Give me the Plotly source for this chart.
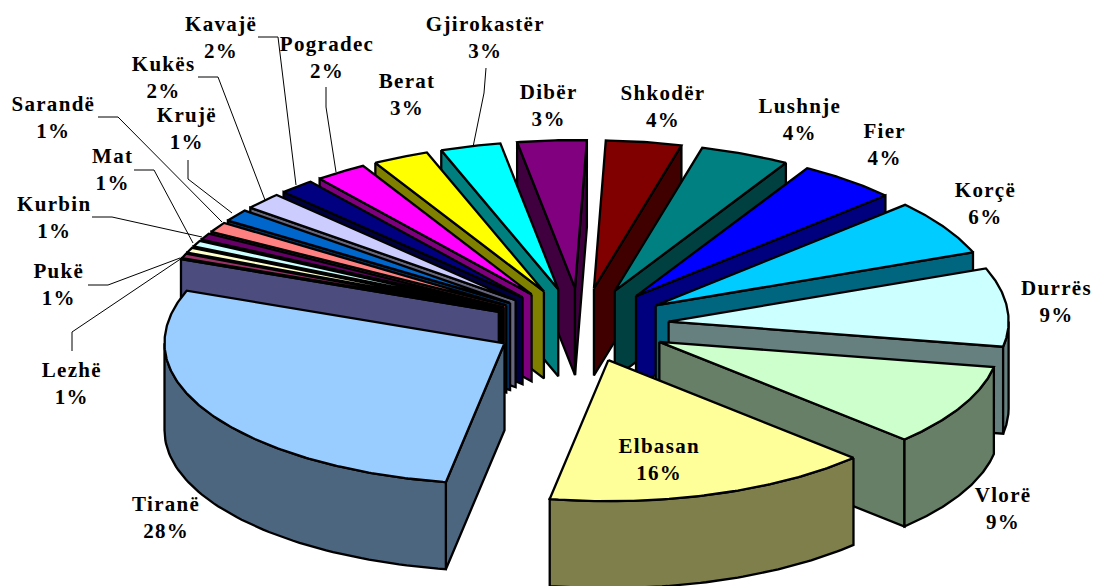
import numpy as np
import plotly.graph_objects as go

# clockwise from the top of the pie
names = ["Shkodër", "Lushnje", "Fier", "Korçë", "Durrës", "Vlorë", "Elbasan", "Tiranë", "",
         "Lezhë", "Pukë", "Mat", "Kurbin", "Sarandë", "Krujë", "Kukës", "Kavajë",
         "Pogradec", "Berat", "Gjirokastër", "Dibër"]
values = [3.5, 4.15, 4.6, 5.9, 8.5, 9.1, 15.2, 27.35, 0.05,
          0.5, 0.55, 0.65, 0.7, 1.1, 1.3, 1.8, 1.65,
          2.4, 2.6, 2.8, 3.2]
pct_labels = ["4%", "4%", "4%", "6%", "9%", "9%", "16%", "28%", "",
              "1%", "1%", "1%", "1%", "1%", "1%", "2%", "2%",
              "2%", "3%", "3%", "3%"]
colors = ["#800000", "#008080", "#0000FF", "#00CCFF", "#CCFFFF", "#CCFFCC", "#FFFF99", "#99CCFF", "#9999FF",
          "#993366", "#FFFFCC", "#CCFFFF", "#660066", "#FF8080", "#0066CC", "#CCCCFF", "#000080",
          "#FF00FF", "#FFFF00", "#00FFFF", "#800080"]

# pie geometry (pixel space of the axes)
CX, CY, A, B, B_FRONT, EA, EB, DEPTH, ROT = 581, 325, 340, 148, 141, 88, 37, 87, 2.0

label_pos = {"Shkodër": (663, 106), "Lushnje": (800, 119), "Fier": (884, 144), "Korçë": (985, 203),
             "Durrës": (1056, 301), "Vlorë": (1003, 508), "Elbasan": (659, 459), "Tiranë": (166, 517),
             "Lezhë": (72, 383), "Pukë": (59, 284), "Mat": (112, 169), "Kurbin": (54, 217),
             "Sarandë": (53, 117), "Krujë": (187, 128), "Kukës": (163, 77), "Kavajë": (221, 37),
             "Pogradec": (327, 57), "Berat": (407, 94), "Gjirokastër": (485, 37), "Dibër": (548, 105)}
leaders = [[(258, 37), (278, 37), (296, 185)], [(326, 87), (326, 107), (336, 172)],
           [(198, 77), (218, 77), (265, 200)], [(188, 160), (188, 179), (232, 213)],
           [(98, 117), (118, 117), (222, 222)], [(134, 170), (154, 170), (193, 243)],
           [(92, 217), (112, 217), (202, 237)], [(88, 285), (108, 285), (180, 258)],
           [(72, 351), (72, 332), (182, 258)], [(486, 68), (484, 93), (473, 147)]]


def shade(c):
    r, g, b = int(c[1:3], 16), int(c[3:5], 16), int(c[5:7], 16)
    return f"rgb({r // 2},{g // 2},{b // 2})"


def rim(t):
    c = np.cos(t)
    return -np.where(c >= 0, B, B_FRONT) * c


fig = go.Figure()


def poly(xs, ys, fill):
    fig.add_trace(go.Scatter(x=np.r_[xs, xs[0]], y=np.r_[ys, ys[0]], mode="lines", fill="toself",
                             fillcolor=fill, line=dict(color="black", width=2.3),
                             hoverinfo="skip", showlegend=False))


total = sum(values)
edges = np.radians(ROT + 360 * np.r_[0, np.cumsum(values)] / total)
order = sorted(range(len(values)), key=lambda i: -np.cos((edges[i] + edges[i + 1]) / 2))

for i in order:
    t0, t1 = edges[i], edges[i + 1]
    mid = (t0 + t1) / 2
    ox = CX + EA * np.sin(mid)
    oy = CY - EB * np.cos(mid)
    dark = shade(colors[i])
    # radial walls facing the viewer
    for t, visible in ((t0, np.sin(t0) < 0), (t1, np.sin(t1) > 0)):
        if visible:
            ex, ey = ox + A * np.sin(t), oy + rim(t)
            poly(np.array([ox, ex, ex, ox]), np.array([oy, ey, ey + DEPTH, oy + DEPTH]), dark)
    # outer curved wall on the front half
    lo, hi = max(t0, np.pi / 2), min(t1, 3 * np.pi / 2)
    if lo < hi:
        ts = np.linspace(lo, hi, 60)
        ax = ox + A * np.sin(ts)
        ay = oy + rim(ts)
        poly(np.r_[ax, ax[::-1]], np.r_[ay, ay[::-1] + DEPTH], dark)
    # top face
    ts = np.linspace(t0, t1, max(3, int(np.degrees(t1 - t0) * 2)))
    poly(np.r_[ox, ox + A * np.sin(ts)], np.r_[oy, oy + rim(ts)], colors[i])

for pts in leaders:
    fig.add_trace(go.Scatter(x=[p[0] for p in pts], y=[p[1] for p in pts], mode="lines",
                             line=dict(color="black", width=1), hoverinfo="skip", showlegend=False))

for n, p in zip(names, pct_labels):
    if n:
        x, y = label_pos[n]
        fig.add_annotation(x=x, y=y, text=f"<b>{n}<br>{p}</b>", showarrow=False, xanchor="center",
                           yanchor="middle", font=dict(family="Liberation Serif", size=21, color="black"))

fig.update_layout(width=1094, height=586, autosize=False, margin=dict(l=0, r=0, t=0, b=0),
                  paper_bgcolor="white", plot_bgcolor="white", showlegend=False,
                  xaxis=dict(range=[0, 1094], visible=False, fixedrange=True),
                  yaxis=dict(range=[586, 0], visible=False, fixedrange=True))
fig.write_html("out.html", config={"displayModeBar": False},
               post_script="document.body.style.margin='0';"
                           "document.querySelectorAll('.annotation-text').forEach(function(e){"
                           "e.style.letterSpacing='1.3px';});")
